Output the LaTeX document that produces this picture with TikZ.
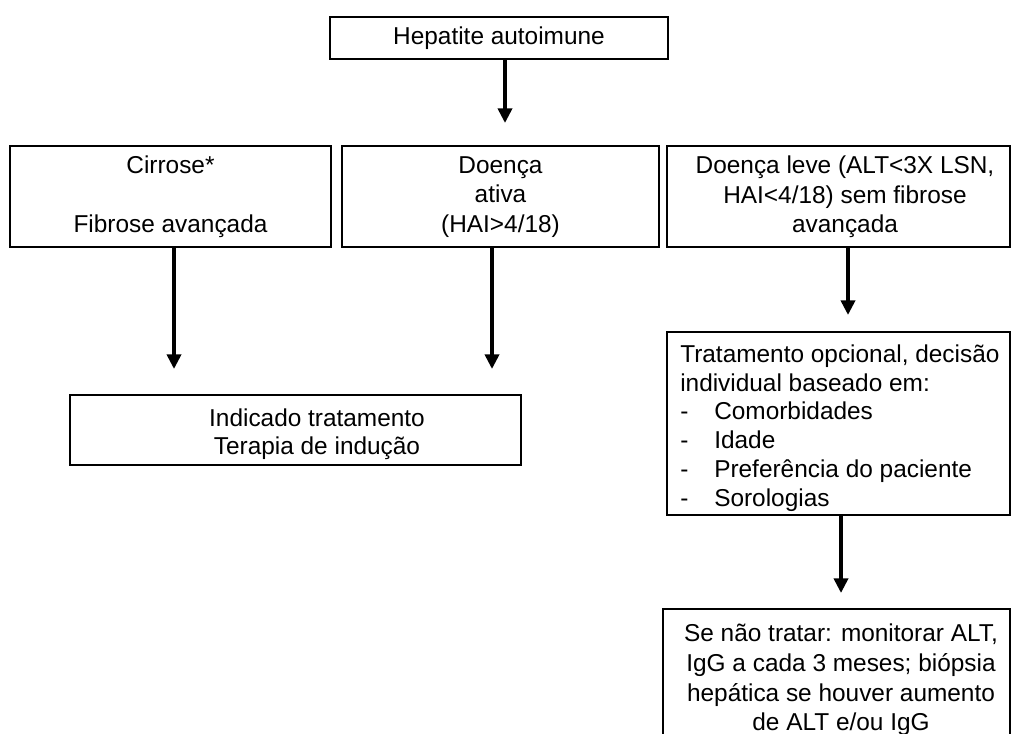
\documentclass[tikz,border=0pt]{standalone}
\usepackage{fontspec}
\setmainfont{Liberation Sans}
\usetikzlibrary{arrows.meta}
\begin{document}
\begin{tikzpicture}[x=0.75pt,y=-0.75pt,
  box/.style={draw, line width=1.5pt, inner sep=0pt},
  txt/.style={inner sep=0pt, align=center, font=\fontsize{18.3pt}{22pt}\selectfont},
  conn/.style={line width=3pt, -{Triangle[width=10.5pt,length=11pt]}}]
\useasboundingbox (0,0) rectangle (1012,734);
\clip (0,0) rectangle (1012,734);
% boxes
\node[box, minimum width=338*0.75pt, minimum height=42*0.75pt] (top) at (499,38) {};
\node[box, minimum width=321*0.75pt, minimum height=101*0.75pt] (c1) at (170.5,196.5) {};
\node[box, minimum width=317*0.75pt, minimum height=101*0.75pt] (c2) at (500.5,196.5) {};
\node[box, minimum width=343*0.75pt, minimum height=101*0.75pt] (c3) at (838.5,196.5) {};
\node[box, minimum width=451*0.75pt, minimum height=70*0.75pt] (ind) at (295.5,430) {};
\node[box, minimum width=343*0.75pt, minimum height=183*0.75pt] (trat) at (838.5,423.5) {};
\node[box, minimum width=347*0.75pt, minimum height=181*0.75pt] (mon) at (836.5,699.5) {};
% texts
\node[txt] (topt) at (499,38) {Hepatite autoimune};
\node[txt] (c1t) at (170.5,197) {Cirrose*\\\mbox{}\\Fibrose avançada};
\node[txt] (c2t) at (500.5,197) {Doença\\ativa\\(HAI>4/18)};
\node[txt] (c3t) at (845,197) {Doença leve (ALT<3X LSN,\\HAI<4/18) sem fibrose\\avançada};
\node[txt, font=\fontsize{18.3pt}{21pt}\selectfont] (indt) at (317,434) {Indicado tratamento\\Terapia de indução};
\node[txt, align=left, anchor=west, font=\fontsize{18.3pt}{21.6pt}\selectfont] (tratt) at (680,428)
  {Tratamento opcional, decisão\\
   individual baseado em:\\
   \makebox[25.5pt][l]{-}Comorbidades\\
   \makebox[25.5pt][l]{-}Idade\\
   \makebox[25.5pt][l]{-}Preferência do paciente\\
   \makebox[25.5pt][l]{-}Sorologias};
\node[txt, font=\fontsize{18.3pt}{22.2pt}\selectfont] (mont) at (841,680) {Se não tratar: monitorar ALT,\\IgG a cada 3 meses; biópsia\\hepática se houver aumento\\de ALT e/ou IgG};
% arrow tips
\coordinate (a0) at (505,123);
\coordinate (a1) at (174,369);
\coordinate (a2) at (492,369);
\coordinate (a3) at (848,315);
\coordinate (a4) at (841,593);
\draw[conn] (top.south -| a0) -- (a0);
\draw[conn] (c1.south -| a1) -- (a1);
\draw[conn] (c2.south -| a2) -- (a2);
\draw[conn] (c3.south -| a3) -- (a3);
\draw[conn] (trat.south -| a4) -- (a4);
\end{tikzpicture}
\end{document}
